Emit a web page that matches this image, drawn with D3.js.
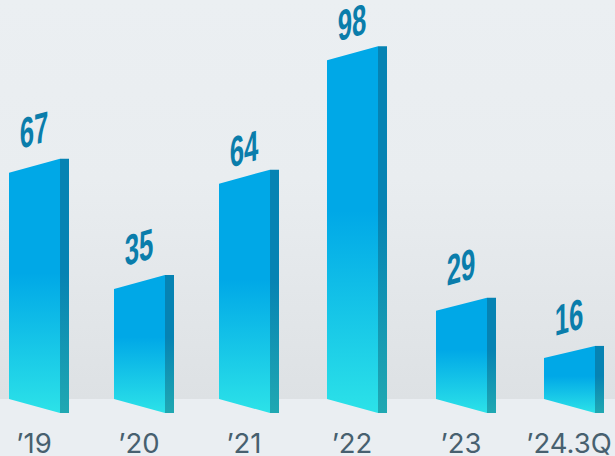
<!DOCTYPE html>
<html lang="en">

<head>
  <meta charset="utf-8">
  <title>Yearly bars</title>
  <script src="https://d3js.org/d3.v7.min.js"></script>
  <style>
    html, body { margin: 0; padding: 0; background: #eaeef2; }
    svg { display: block; }
  </style>
</head>

<body>
  <svg width="615" height="456"></svg>
  <script>
    const years = ["’19", "’20", "’21", "’22", "’23", "’24.3Q"];
    const values = [67, 35, 64, 98, 29, 16];

    const svg = d3.select("svg");
    const floorY = 399, depthY = 14, frontW = 51, sideW = 9;

    const x = d3.scaleOrdinal().domain(years).range([9, 114, 219, 327, 436, 544]);
    const y = d3.scaleLinear().domain([0, 100]).range([416, 53]);
    // small hand offsets, the source picture is not quite regular
    const topSlope = d3.scaleOrdinal().domain(years).range([14, 14, 14, 14, 13, 12]);
    const labelDy = d3.scaleOrdinal().domain(years).range([-28, -27, -20, -23, -29, -26]);

    const defs = svg.append("defs");

    const bgGrad = defs.append("linearGradient").attr("id", "bg")
      .attr("x1", 0).attr("x2", 0).attr("y1", 0).attr("y2", 1);
    bgGrad.append("stop").attr("offset", "0%").attr("stop-color", "#ebeff2");
    bgGrad.append("stop").attr("offset", "45%").attr("stop-color", "#e9edf0");
    bgGrad.append("stop").attr("offset", "100%").attr("stop-color", "#dde1e4");

    function addGrad(id, top, bottom) {
      const g = defs.append("linearGradient").attr("id", id)
        .attr("x1", 0).attr("x2", 0).attr("y1", 0).attr("y2", 1);
      g.append("stop").attr("offset", "0%").attr("stop-color", top);
      g.append("stop").attr("offset", "45%").attr("stop-color", top);
      g.append("stop").attr("offset", "100%").attr("stop-color", bottom);
    }
    addGrad("front", "#00a8e7", "#2ce2e8");
    addGrad("side", "#0683b3", "#20a8b2");

    svg.append("rect").attr("width", 615).attr("height", 456).attr("fill", "#eaeef2");
    svg.append("rect").attr("width", 615).attr("height", floorY).attr("fill", "url(#bg)");

    const bars = svg.selectAll("g.bar").data(years.map((k, i) => ({ k, v: values[i] })))
      .enter().append("g").attr("class", "bar");

    bars.append("path").attr("fill", "url(#front)")
      .attr("d", d => {
        const l = x(d.k), r = l + frontW, t = y(d.v);
        return `M${l},${t}L${r},${t - topSlope(d.k)}L${r},${floorY + depthY}L${l},${floorY}Z`;
      });

    bars.append("path").attr("fill", "url(#side)")
      .attr("d", d => {
        const r = x(d.k) + frontW, t = y(d.v) - topSlope(d.k);
        return `M${r},${t}L${r + sideW},${t}L${r + sideW},${floorY + depthY}L${r},${floorY + depthY}Z`;
      });

    // value labels are squeezed and sheared to follow the top edge of the bars
    bars.append("text")
      .attr("transform", d => `translate(${x(d.k) + 25},${y(d.v) + labelDy(d.k)}) skewY(-16) scale(0.6,1)`)
      .attr("text-anchor", "middle")
      .attr("font-family", "Liberation Sans")
      .attr("font-weight", "bold")
      .attr("font-size", 43)
      .attr("fill", "#0a7dab")
      .text(d => d.v);

    bars.append("text")
      .attr("x", d => x(d.k) + 25)
      .attr("y", 452.5)
      .attr("text-anchor", "middle")
      .attr("font-family", "Inter")
      .attr("font-size", 27.5)
      .attr("fill", "#47606f")
      .text(d => d.k);
  </script>
</body>

</html>
